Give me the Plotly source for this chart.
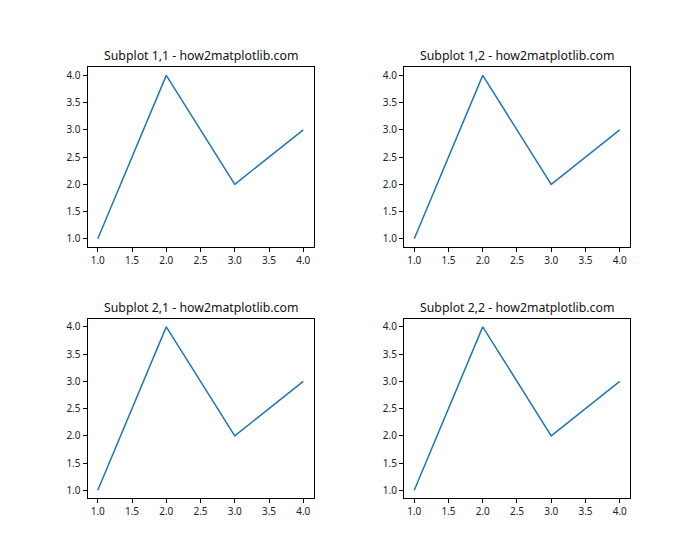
import plotly.graph_objects as go

x_vals = [1, 2, 3, 4]
y_vals = [1, 4, 2, 3]
titles = ["Subplot 1,1 - how2matplotlib.com", "Subplot 1,2 - how2matplotlib.com",
          "Subplot 2,1 - how2matplotlib.com", "Subplot 2,2 - how2matplotlib.com"]
tick_vals = [1.0, 1.5, 2.0, 2.5, 3.0, 3.5, 4.0]

W, H = 700, 560
fig = go.Figure()

x_domains = [[0.125, 0.4479], [0.5771, 0.9]]
y_domains = [[0.5591, 0.88], [0.11, 0.4309]]

font_family = "Noto Sans, DejaVu Sans, sans-serif"
idx = 0
for r in range(2):
    for c in range(2):
        idx += 1
        xa = "xaxis" if idx == 1 else f"xaxis{idx}"
        ya = "yaxis" if idx == 1 else f"yaxis{idx}"
        xr = "x" if idx == 1 else f"x{idx}"
        yr = "y" if idx == 1 else f"y{idx}"
        fig.add_trace(go.Scatter(x=x_vals, y=y_vals, mode="lines",
                                 line=dict(color="#1f77b4", width=1.5),
                                 xaxis=xr, yaxis=yr, showlegend=False,
                                 hoverinfo="skip"))
        axis_common = dict(range=[0.85, 4.15], tickvals=tick_vals,
                           ticktext=[f"{v:.1f}" for v in tick_vals],
                           showgrid=False, zeroline=False, showline=True,
                           linecolor="black", linewidth=1, mirror=True,
                           ticks="outside", ticklen=4, tickwidth=1,
                           tickcolor="black",
                           tickfont=dict(family=font_family, size=10, color="#222222"),
                           fixedrange=True)
        fig.layout[xa] = dict(domain=x_domains[c], anchor=yr, **axis_common)
        fig.layout[ya] = dict(domain=y_domains[r], anchor=xr, **axis_common)
        fig.add_annotation(text=titles[idx - 1], xref="paper", yref="paper",
                           x=(x_domains[c][0] + x_domains[c][1]) / 2,
                           y=y_domains[r][1], xanchor="center", yanchor="bottom",
                           yshift=1, showarrow=False,
                           font=dict(family=font_family, size=12.3, color="#111111"))

fig.update_layout(width=W, height=H, margin=dict(l=0, r=0, t=0, b=0),
                  paper_bgcolor="white", plot_bgcolor="white")
fig.write_html("out.html")
